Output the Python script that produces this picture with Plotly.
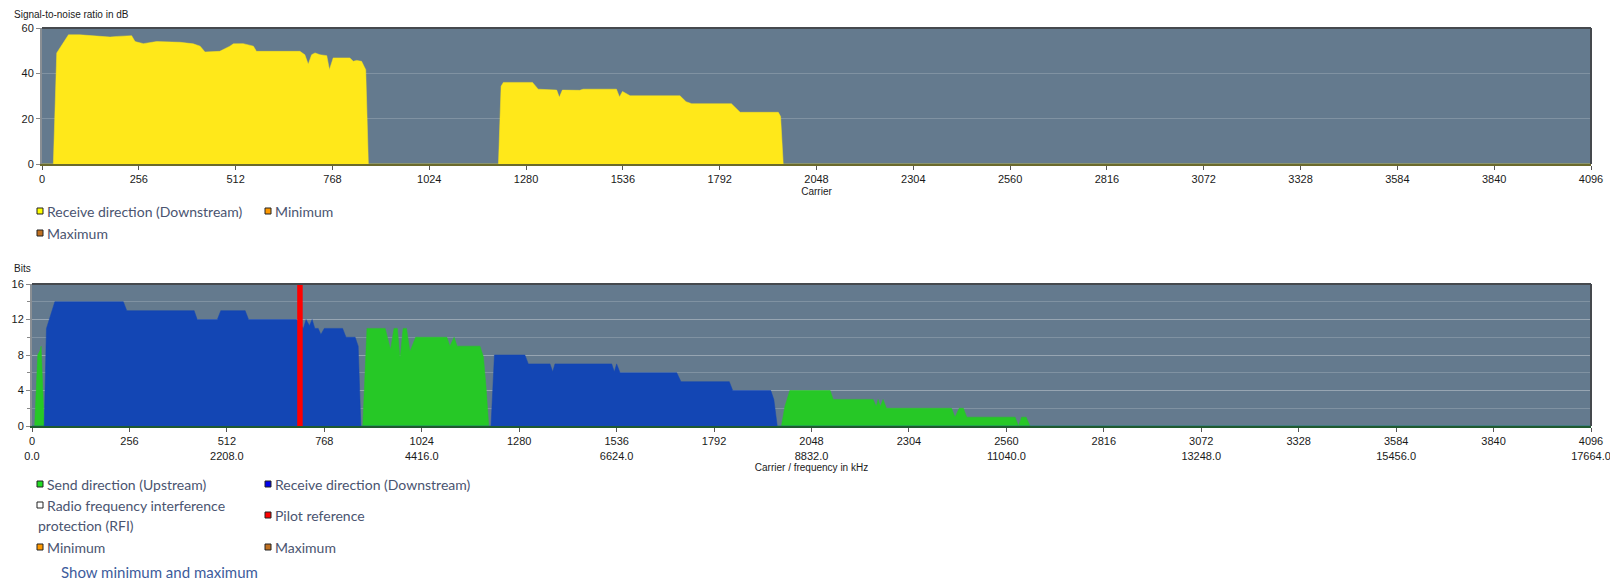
import plotly.graph_objects as go

# page is 1618x588; the HTML body adds an 8px margin
OFF = 8
W, H = 1618 - 2 * OFF, 588 - 2 * OFF

# ---------------- data ----------------
snr_carrier = [0, 30, 39, 48, 70, 100, 118, 153, 180, 200, 237, 246, 268, 303, 347, 365, 400, 418, 431, 453, 470,
               497, 506, 532, 559, 567, 682, 695, 704, 713, 722, 735, 753, 760, 770, 814, 823, 832, 845, 856, 863,
               1207, 1214, 1220, 1297, 1312, 1326, 1361, 1368, 1376, 1422, 1431, 1519, 1527, 1535, 1555, 1687,
               1703, 1718, 1823, 1846, 1947, 1953, 1960, 4096]
snr_db = [0, 0, 49, 51.2, 57, 57, 56.8, 56.3, 56.0, 56.3, 56.6, 54, 53.1, 54, 54, 53.7, 53, 52, 49.4, 49.7, 49.7,
          52, 53, 53.1, 52, 49.7, 49.7, 48.2, 44, 48.2, 49, 48.2, 47.8, 41.6, 46.8, 46.8, 45.3, 45.7, 45.3, 41.6, 0,
          0, 34.3, 36, 36, 33, 32.8, 32.6, 29.4, 32.6, 32.5, 33, 33, 29.6, 32, 30.1, 30.1,
          27.5, 26.6, 26.6, 22.8, 22.8, 21, 0, 0]

up_carrier = [0, 7, 15, 21, 24, 32,
              869, 880, 928, 942, 951, 960, 967, 975, 984, 993, 1008, 1090, 1098, 1109, 1117, 1177, 1186, 1193, 1200,
              1969, 1978, 1991, 2097, 2105, 2210, 2218, 2223, 2229, 2236, 2245, 2416, 2425, 2436, 2447, 2456,
              2583, 2592, 2600, 2612, 2622, 4096]
up_bits = [0, 0, 8, 8.5, 9, 0,
           0, 11, 11, 8.6, 11, 11, 7.6, 11, 11, 8.4, 10, 10, 9, 10, 9, 9, 7.8, 4.4, 0,
           0, 2.2, 4, 4, 3, 3, 2.2, 3, 2.2, 3, 2, 2, 1, 2, 2, 1,
           1, 0, 1, 1, 0, 0]

down_carrier = [0, 32, 38, 60, 240, 249, 426, 434, 487, 496, 560, 569, 695, 713, 720, 729, 736, 743, 752, 759,
                768, 816, 825, 849, 857, 864,
                1206, 1215, 1295, 1304, 1361, 1368, 1374, 1523, 1530, 1536, 1545, 1694, 1705, 1832, 1841, 1941,
                1949, 1958, 4096]
down_bits = [0, 0, 11, 14, 14, 13, 13, 12, 12, 13, 13, 12, 12, 11, 12, 11.3, 12, 11, 11, 10.3,
             11, 11, 10, 10, 9, 0,
             0, 8, 8, 7, 7, 6.1, 7, 7, 6.1, 7, 6, 6, 5, 5, 4, 4,
             3, 0, 0]

pilot_carrier = [704, 704]
pilot_bits = [0, 16]

carrier_ticks = [0, 256, 512, 768, 1024, 1280, 1536, 1792, 2048, 2304, 2560, 2816, 3072, 3328, 3584, 3840, 4096]
freq_labels = ["0.0", "", "2208.0", "", "4416.0", "", "6624.0", "", "8832.0", "", "11040.0", "", "13248.0", "",
               "15456.0", "", "17664.0"]

top_legend = [("Receive direction (Downstream)", "#ffff00"), ("Minimum", "#ff9900"), ("Maximum", "#c07020")]
bottom_legend = [("Send direction (Upstream)", "#22dd22"), ("Receive direction (Downstream)", "#0000ee"),
                 ("Radio frequency interference<br>protection (RFI)", "#ffffff"), ("Pilot reference", "#ff0000"),
                 ("Minimum", "#ff9900"), ("Maximum", "#c07020")]

# ---------------- styles ----------------
BG = "#647a8e"
GRID = "rgba(255,255,255,0.18)"
YELLOW = "#ffe81a"
BLUE = "#1346b4"
GREEN = "#26c826"
TEXT = "#4a5470"
TICKFONT = dict(family="Liberation Sans, Arial, sans-serif", size=11, color="#1a1a1a")


def X(px):
    return (px - OFF) / W


def Y(py):
    return 1 - (py - OFF) / H


fig = go.Figure()

fig.add_trace(go.Scatter(x=snr_carrier, y=snr_db, mode="lines", fill="tozeroy", fillcolor=YELLOW,
                         line=dict(color=YELLOW, width=0.5, shape="linear"), xaxis="x", yaxis="y",
                         hoverinfo="skip", showlegend=False))
fig.add_trace(go.Scatter(x=up_carrier, y=up_bits, mode="lines", fill="tozeroy", fillcolor=GREEN,
                         line=dict(color=GREEN, width=0.5), xaxis="x2", yaxis="y2",
                         hoverinfo="skip", showlegend=False))
fig.add_trace(go.Scatter(x=down_carrier, y=down_bits, mode="lines", fill="tozeroy", fillcolor=BLUE,
                         line=dict(color=BLUE, width=0.5), xaxis="x2", yaxis="y2",
                         hoverinfo="skip", showlegend=False))
fig.add_trace(go.Scatter(x=pilot_carrier, y=pilot_bits, mode="lines", line=dict(color="#ff0000", width=5.5),
                         xaxis="x2", yaxis="y2", hoverinfo="skip", showlegend=False, cliponaxis=True))

top_dom_x = [X(42), X(1591)]
top_dom_y = [Y(164), Y(28)]
bot_dom_x = [X(32), X(1591)]
bot_dom_y = [Y(426), Y(284)]

axis_common = dict(showgrid=False, zeroline=False, ticks="outside", ticklen=4, tickcolor="#555",
                   tickfont=TICKFONT, range=[0, 4096], tickvals=carrier_ticks, fixedrange=True,
                   automargin=False, ticklabeloverflow="allow")

fig.update_layout(
    width=W, height=H,
    margin=dict(l=0, r=0, t=0, b=0, autoexpand=False),
    paper_bgcolor="white",
    plot_bgcolor=BG,
    xaxis=dict(domain=top_dom_x, anchor="y", ticktext=[str(c) for c in carrier_ticks],
               showline=True, linecolor="#6b6a2c", linewidth=2,
               title=dict(text="Carrier", font=dict(family="Liberation Sans, Arial", size=10, color="#1a1a1a"),
                          standoff=4),
               **axis_common),
    yaxis=dict(domain=top_dom_y, anchor="x", range=[0, 60], tickvals=[0, 20, 40, 60], showgrid=True,
               gridcolor=GRID, zeroline=False, ticks="outside", ticklen=4, tickcolor="#888",
               showline=True, linecolor="#8a8f94", linewidth=2, tickfont=TICKFONT, fixedrange=True,
               automargin=False),
    xaxis2=dict(domain=bot_dom_x, anchor="y2",
                ticktext=[f"{c}<br>{f}" if f else f"{c}<br> " for c, f in zip(carrier_ticks, freq_labels)],
                showline=True, linecolor="#1f5a30", linewidth=2,
                title=dict(text="Carrier / frequency in kHz",
                           font=dict(family="Liberation Sans, Arial", size=10, color="#1a1a1a"), standoff=2),
                **axis_common),
    yaxis2=dict(domain=bot_dom_y, anchor="x2", range=[0, 16], tickvals=[0, 4, 8, 12, 16], showgrid=True,
                gridcolor=GRID, zeroline=False, ticks="outside", ticklen=4, tickcolor="#888",
                minor=dict(dtick=2, showgrid=True, gridcolor=GRID, ticks="outside", ticklen=3, tickcolor="#888"),
                showline=True, linecolor="#8a8f94", linewidth=2, tickfont=TICKFONT, fixedrange=True,
                automargin=False),
)

shapes = []
# frames (top and right borders)
for dx, dy in [(top_dom_x, top_dom_y), (bot_dom_x, bot_dom_y)]:
    shapes.append(dict(type="line", xref="paper", yref="paper", x0=dx[0], x1=dx[1], y0=dy[1], y1=dy[1],
                       line=dict(color="#45494e", width=2)))
    shapes.append(dict(type="line", xref="paper", yref="paper", x0=dx[1], x1=dx[1], y0=dy[0], y1=dy[1],
                       line=dict(color="#45494e", width=2)))

annotations = [
    dict(text="Signal-to-noise ratio in dB", x=X(12), y=Y(14), xref="paper", yref="paper", xanchor="left",
         yanchor="middle", showarrow=False, font=dict(family="Liberation Sans, Arial", size=10, color="#1a1a1a")),
    dict(text="Bits", x=X(12), y=Y(268), xref="paper", yref="paper", xanchor="left",
         yanchor="middle", showarrow=False, font=dict(family="Liberation Sans, Arial", size=10, color="#1a1a1a")),
]

LEGFONT = dict(family="Lato, Open Sans, sans-serif", size=14, color=TEXT)


def legend_item(label, color, sx, sy, text_y=None):
    shapes.append(dict(type="rect", xref="paper", yref="paper", x0=X(sx), x1=X(sx + 6), y0=Y(sy + 3), y1=Y(sy - 3),
                       fillcolor=color, line=dict(color="#222", width=1)))
    annotations.append(dict(text=label, x=X(sx + 8), y=Y(text_y if text_y is not None else sy), xref="paper",
                            yref="paper", xanchor="left", yanchor="middle", align="left", showarrow=False,
                            font=LEGFONT))


legend_item(top_legend[0][0], top_legend[0][1], 37, 211)
legend_item(top_legend[1][0], top_legend[1][1], 265, 211)
legend_item(top_legend[2][0], top_legend[2][1], 37, 233)

legend_item(bottom_legend[0][0], bottom_legend[0][1], 37, 484)
legend_item(bottom_legend[1][0], bottom_legend[1][1], 265, 484)
# RFI: two lines, square on first line
shapes.append(dict(type="rect", xref="paper", yref="paper", x0=X(37), x1=X(43), y0=Y(508), y1=Y(502),
                   fillcolor=bottom_legend[2][1], line=dict(color="#222", width=1)))
annotations.append(dict(text="Radio frequency interference", x=X(45), y=Y(505), xref="paper", yref="paper",
                        xanchor="left", yanchor="middle", showarrow=False, font=LEGFONT))
annotations.append(dict(text="protection (RFI)", x=X(36), y=Y(525), xref="paper", yref="paper",
                        xanchor="left", yanchor="middle", showarrow=False, font=LEGFONT))
legend_item(bottom_legend[3][0], bottom_legend[3][1], 265, 515)
legend_item(bottom_legend[4][0], bottom_legend[4][1], 37, 547)
legend_item(bottom_legend[5][0], bottom_legend[5][1], 265, 547)

annotations.append(dict(text="Show minimum and maximum", x=X(59), y=Y(571.5), xref="paper", yref="paper",
                        xanchor="left", yanchor="middle", showarrow=False,
                        font=dict(family="Lato, Open Sans, sans-serif", size=15, color="#3d5c9c")))

fig.update_layout(shapes=shapes, annotations=annotations)

fig.write_html("out.html")
